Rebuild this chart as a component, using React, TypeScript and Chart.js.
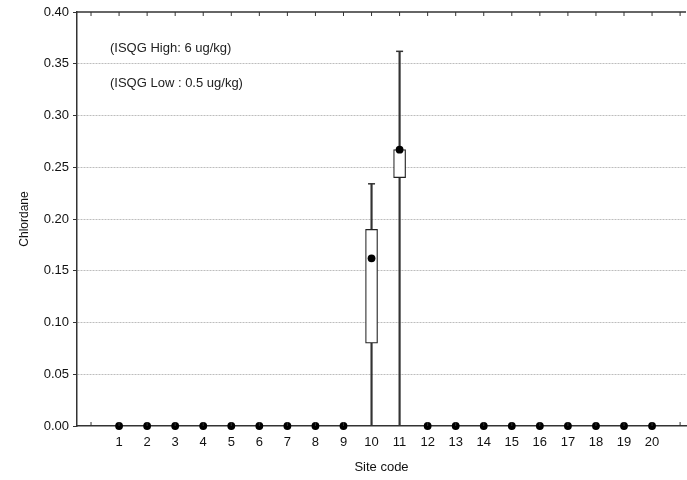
import React, { useEffect, useRef } from "react";
import { Chart, registerables } from "chart.js";

Chart.register(...registerables);

// site codes on the x axis
const siteCodes = [1, 2, 3, 4, 5, 6, 7, 8, 9, 10, 11, 12, 13, 14, 15, 16, 17, 18, 19, 20];
// mean (dot) per site
const meanValues = [0, 0, 0, 0, 0, 0, 0, 0, 0, 0.162, 0.267, 0, 0, 0, 0, 0, 0, 0, 0, 0];
// box = mean +/- SE, whiskers = min / max
const boxLower = [0, 0, 0, 0, 0, 0, 0, 0, 0, 0.08, 0.24, 0, 0, 0, 0, 0, 0, 0, 0, 0];
const boxUpper = [0, 0, 0, 0, 0, 0, 0, 0, 0, 0.19, 0.267, 0, 0, 0, 0, 0, 0, 0, 0, 0];
const whiskerMin = [0, 0, 0, 0, 0, 0, 0, 0, 0, 0, 0, 0, 0, 0, 0, 0, 0, 0, 0, 0];
const whiskerMax = [0, 0, 0, 0, 0, 0, 0, 0, 0, 0.234, 0.362, 0, 0, 0, 0, 0, 0, 0, 0, 0];

const notes = ["(ISQG High: 6 ug/kg)", "(ISQG Low : 0.5 ug/kg)"];

const FONT = "'Liberation Sans', Arial, sans-serif";
const AXIS = "#333333";

const framePlugin = {
    id: "frame",
    afterDraw(chart: any) {
        const { ctx, chartArea, scales } = chart;
        const x = scales.x;
        ctx.save();
        ctx.strokeStyle = AXIS;
        ctx.lineWidth = 1.5;
        ctx.beginPath();
        ctx.moveTo(chartArea.left, chartArea.top);
        ctx.lineTo(chartArea.right, chartArea.top);
        ctx.stroke();
        ctx.lineWidth = 1;
        for (let i = 0; i <= 22; i++) {
            const px = x.getPixelForValue(i);
            if (px <= chartArea.left + 2 || px >= chartArea.right) continue;
            ctx.beginPath();
            ctx.moveTo(px, chartArea.top);
            ctx.lineTo(px, chartArea.top + 4);
            ctx.moveTo(px, chartArea.bottom);
            ctx.lineTo(px, chartArea.bottom - 4);
            ctx.stroke();
        }
        ctx.fillStyle = "#222";
        ctx.font = "13px " + FONT;
        ctx.textBaseline = "middle";
        ctx.textAlign = "left";
        notes.forEach((t, i) => {
            ctx.fillText(t, chartArea.left + 33, chartArea.top + 36 + i * 35);
        });
        ctx.restore();
    },
};

const App = () => {
    const canvasRef = useRef<HTMLCanvasElement | null>(null);

    useEffect(() => {
        document.body.style.margin = "0";
        const ctx = canvasRef.current?.getContext("2d") as CanvasRenderingContext2D;
        if (!ctx) return;

        const idx = siteCodes.map((_, i) => i);
        const withBox = idx.filter((i) => boxUpper[i] > boxLower[i]);
        const withWhisker = idx.filter((i) => whiskerMax[i] > whiskerMin[i]);

        const chart = new Chart(ctx, {
            type: "bar",
            data: {
                datasets: [
                    {
                        type: "scatter",
                        data: siteCodes.map((s, i) => ({ x: s, y: meanValues[i] })),
                        pointRadius: 3.9,
                        pointBackgroundColor: "#000",
                        pointBorderColor: "#000",
                        pointBorderWidth: 0,
                        clip: false,
                        order: 0,
                    },
                    {
                        type: "bar",
                        data: withBox.map((i) => ({ x: siteCodes[i], y: [boxLower[i], boxUpper[i]] })),
                        backgroundColor: "#fff",
                        borderColor: "#222",
                        borderWidth: 1.2,
                        borderSkipped: false,
                        barThickness: 12,
                        grouped: false,
                        order: 1,
                    },
                    {
                        type: "scatter",
                        data: withWhisker.flatMap((i) => [
                            { x: siteCodes[i], y: whiskerMax[i] },
                            { x: siteCodes[i], y: whiskerMin[i] },
                        ]),
                        pointStyle: "line",
                        pointRadius: 3.5,
                        pointBorderColor: "#333",
                        pointBorderWidth: 1.5,
                        order: 2,
                    },
                    {
                        type: "bar",
                        data: withWhisker.map((i) => ({ x: siteCodes[i], y: [whiskerMin[i], whiskerMax[i]] })),
                        backgroundColor: "#333",
                        borderWidth: 0,
                        barThickness: 1.5,
                        grouped: false,
                        order: 3,
                    },
                ] as any,
            },
            options: {
                animation: false,
                responsive: false,
                layout: { autoPadding: false, padding: { top: 12, right: 0, left: 0, bottom: 0 } },
                plugins: { legend: { display: false }, tooltip: { enabled: false } },
                scales: {
                    x: {
                        type: "linear",
                        offset: false,
                        min: -0.5,
                        max: 21.21,
                        afterFit: (s: any) => {
                            s.height = 54;
                        },
                        grid: { display: false, offset: false },
                        border: { display: true, color: AXIS, width: 1.5 },
                        ticks: {
                            stepSize: 1,
                            autoSkip: false,
                            maxRotation: 0,
                            padding: 1,
                            color: "#111",
                            font: { family: FONT, size: 13 },
                            callback: (v: any) =>
                                Number.isInteger(v) && v >= 1 && v <= 20 ? String(v) : "",
                        },
                        title: {
                            display: true,
                            text: "Site code",
                            color: "#111",
                            font: { family: FONT, size: 13 },
                            padding: { top: 0, bottom: 5 },
                        },
                    },
                    y: {
                        min: 0,
                        max: 0.4,
                        afterFit: (s: any) => {
                            s.width = 77;
                        },
                        grid: {
                            color: (c: any) =>
                                c.tick && (c.tick.value < 1e-6 || c.tick.value > 0.3999)
                                    ? "rgba(0,0,0,0)"
                                    : "#bdbdbd",
                            tickColor: AXIS,
                            tickBorderDash: [],
                            tickLength: 4,
                            lineWidth: 1,
                        } as any,
                        border: { display: true, color: AXIS, width: 1.5, dash: [2, 1] },
                        ticks: {
                            stepSize: 0.05,
                            padding: 4,
                            color: "#111",
                            font: { family: FONT, size: 13 },
                            callback: (v: any) => Number(v).toFixed(2),
                        },
                        title: {
                            display: true,
                            text: "Chlordane",
                            color: "#111",
                            font: { family: FONT, size: 12 },
                            padding: { top: 17, bottom: 0 },
                        },
                    },
                },
            },
            plugins: [framePlugin],
        });

        return () => {
            chart.destroy();
        };
    }, []);

    return (
        <div style={{ width: 687, height: 480 }}>
            <canvas ref={canvasRef} width={687} height={480} style={{ display: "block" }} />
        </div>
    );
};

export default App;
